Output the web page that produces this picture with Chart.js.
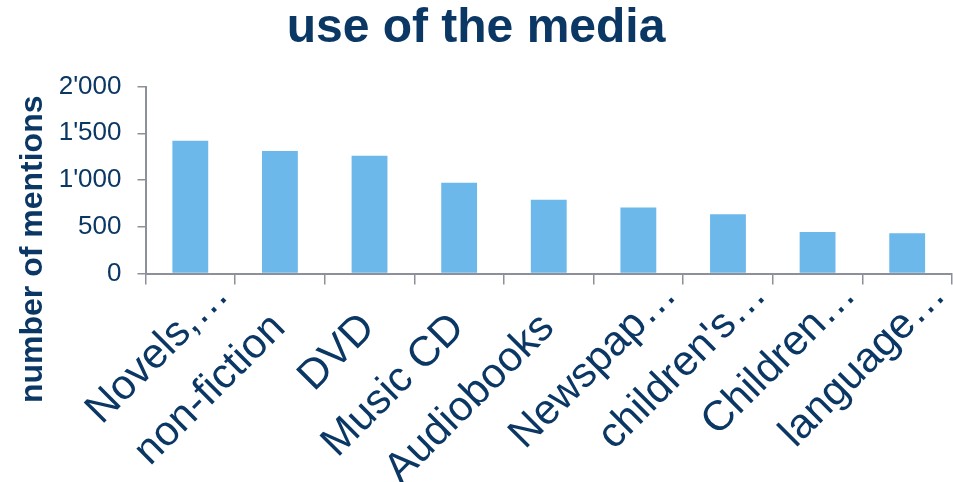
<!DOCTYPE html>
<html>
<head>
<meta charset="utf-8">
<script src="https://cdn.jsdelivr.net/npm/chart.js@4"></script>
<style>
  html, body { margin: 0; padding: 0; background: #fff; overflow: hidden; }
  #wrap { position: relative; width: 953px; height: 482px; }
</style>
</head>
<body>
<div id="wrap"><canvas id="chart"></canvas></div>
<script>
const categories = [
  "Novels,…", "non-fiction", "DVD", "Music CD", "Audiobooks",
  "Newspap…", "children's…", "Children…", "language…",
];
const mentions = [1420, 1310, 1260, 970, 790, 705, 635, 445, 430];
const yTicks = [0, 500, 1000, 1500, 2000];

const navy = "#0b3765";
const axisGrey = "#8c9099";
const barBlue = "#6db8eb";
const font = "'Liberation Sans', Arial, sans-serif";

// Excel-style thousands separator: 2'000
const fmt = (v) => String(v).replace(/\B(?=(\d{3})+(?!\d))/g, "'");

// truncated labels sit further out along the diagonal than whole ones
const padLabel = (s) => (s.endsWith("…") ? s : s + "\u00a0".repeat(4));

// eslint-disable-next-line no-new
new Chart(document.getElementById("chart"), {
  type: "bar",
  data: {
    labels: categories,
    datasets: [
      {
        label: "number of mentions",
        data: mentions,
        backgroundColor: barBlue,
        borderWidth: 0,
        barPercentage: 0.4,
        categoryPercentage: 1.0,
      },
    ],
  },
  options: {
    animation: false,
    responsive: true,
    maintainAspectRatio: false,
    layout: { padding: { left: 0, right: 1, top: 0, bottom: 0 } },
    plugins: {
      legend: { display: false },
      tooltip: { enabled: false },
      title: {
        display: true,
        text: "use of the media",
        color: navy,
        font: { family: font, size: 48, weight: "bold" },
        padding: { top: 0, bottom: 29 },
      },
    },
    scales: {
      x: {
        afterFit: (scale) => {
          scale.height = 208.5;
        },
        border: { color: axisGrey, width: 2 },
        grid: {
          offset: true,
          drawOnChartArea: false,
          drawTicks: true,
          tickLength: 11,
          color: axisGrey,
          lineWidth: 1.5,
        },
        ticks: {
          autoSkip: false,
          minRotation: 45,
          maxRotation: 45,
          padding: -14,
          labelOffset: 32,
          color: navy,
          font: { family: font, size: 42 },
          callback: (v, i) => padLabel(categories[i]),
        },
      },
      y: {
        afterFit: (scale) => {
          scale.width = 145.5;
        },
        min: 0,
        max: 2000,
        afterBuildTicks: (scale) => {
          scale.ticks = yTicks.map((v) => ({ value: v }));
        },
        border: { color: axisGrey, width: 2 },
        grid: {
          drawOnChartArea: false,
          drawTicks: true,
          tickLength: 8,
          color: axisGrey,
          lineWidth: 1.5,
        },
        ticks: {
          padding: 16,
          color: navy,
          font: { family: font, size: 26 },
          callback: (v) => fmt(v),
        },
        title: {
          display: true,
          text: "number of mentions\u00a0",
          align: "end",
          color: navy,
          font: { family: font, size: 32, weight: "bold" },
          padding: { top: 14, bottom: 0 },
        },
      },
    },
  },
});
</script>
</body>
</html>
